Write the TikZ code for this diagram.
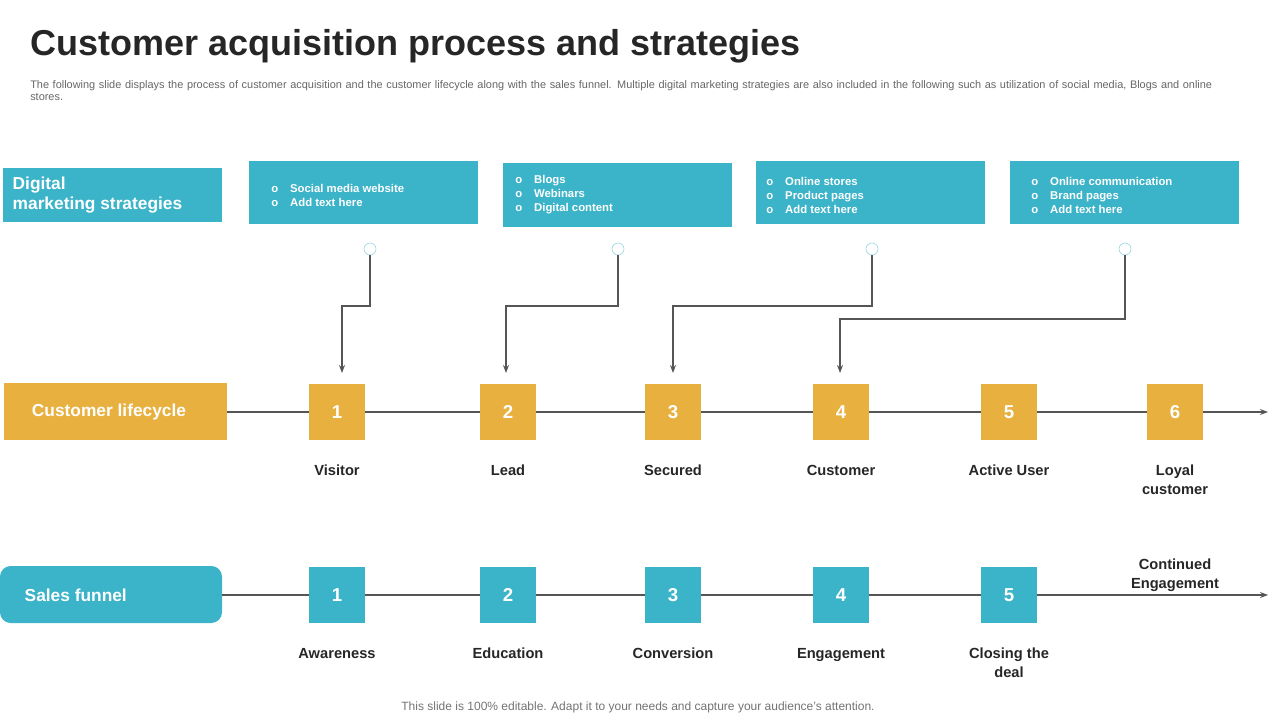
\documentclass[tikz,border=0pt]{standalone}
\usepackage{fontspec}
\setmainfont{Liberation Sans}
\usetikzlibrary{arrows.meta}
\definecolor{teal}{HTML}{3BB3C9}
\definecolor{gold}{HTML}{E8B03F}
\definecolor{line}{HTML}{555555}
\newcommand{\stepsq}[5]{\node[fill=#4,minimum size=42pt,text=white,font=\bfseries\fontsize{14}{16}\selectfont] (#1) at (#2,#3) {#5};}
\newcommand{\steplabel}[4]{\node[font=\bfseries\fontsize{11}{14}\selectfont,align=center,anchor=north,text=black!85] (#1) at (#2,#3) {\strut#4};}
\newcommand{\bl}[1]{o\hspace{9pt}#1}
\tikzset{tbox/.style={fill=teal,text=white,font=\bfseries\fontsize{8.5}{10.5}\selectfont,align=left,anchor=north west,inner sep=0pt},
  pin/.style={circle,draw=teal!60,fill=white,minimum size=9pt,inner sep=0pt},
  conn/.style={draw=line,line width=0.9pt,-{Stealth[length=6pt]}}}
\begin{document}
\begin{tikzpicture}[x=0.75pt,y=-0.75pt]
\useasboundingbox (0,0) rectangle (1280,720);
\node[anchor=west,font=\bfseries\fontsize{27}{30}\selectfont,text=black!85] (title) at (26,46) {Customer acquisition process and strategies};
\node[anchor=north west,text width=912pt,font=\fontsize{8.2}{9.6}\selectfont,text=black!60,inner sep=0pt] (sub) at (30,80) {The following slide displays the process of customer acquisition and the customer lifecycle along with the sales funnel. Multiple digital marketing strategies are also included in the following such as utilization of social media, Blogs and online stores.};
% strategy boxes
\fill[teal] (3,168) rectangle (222,222);
\node[anchor=west,text=white,font=\bfseries\fontsize{13}{15}\selectfont,align=left] (dms) at (8,195) {Digital\\ marketing strategies};
\fill[teal] (249,161) rectangle (478,224);
\fill[teal] (503,163) rectangle (732,227);
\fill[teal] (756,161) rectangle (985,224);
\fill[teal] (1010,161) rectangle (1239,224);
\node[tbox,anchor=west] (s1) at (271,195) {\bl{Social media website}\\ \bl{Add text here}};
\node[tbox,anchor=west] (s2) at (515,195) {\bl{Blogs}\\ \bl{Webinars}\\ \bl{Digital content}};
\node[tbox,anchor=west] (s3) at (766,195) {\bl{Online stores}\\ \bl{Product pages}\\ \bl{Add text here}};
\node[tbox,anchor=west] (s4) at (1031,195) {\bl{Online communication}\\ \bl{Brand pages}\\ \bl{Add text here}};
\node[pin] (p1) at (370,249) {}; \node[pin] (p2) at (618,249) {};
\node[pin] (p3) at (872,249) {}; \node[pin] (p4) at (1125,249) {};
% customer lifecycle
\fill[gold] (4,383) rectangle (227,440);
\node[text=white,font=\bfseries\fontsize{13}{15}\selectfont] (cl) at (109,412) {Customer lifecycle};
\coordinate (clend) at (1268,412);
\draw[conn] (227,412) -- (clend);
\stepsq{c1}{337}{412}{gold}{1} \stepsq{c2}{508}{412}{gold}{2}
\stepsq{c3}{673}{412}{gold}{3} \stepsq{c4}{841}{412}{gold}{4}
\stepsq{c5}{1009}{412}{gold}{5} \stepsq{c6}{1175}{412}{gold}{6}
\steplabel{l1}{337}{458}{Visitor} \steplabel{l2}{508}{458}{Lead}
\steplabel{l3}{673}{458}{Secured} \steplabel{l4}{841}{458}{Customer}
\steplabel{l5}{1009}{458}{Active User} \steplabel{l6}{1175}{458}{Loyal\\customer}
\draw[conn] (p1) -- (370,306) -| (342,373);
\draw[conn] (p2) -- (618,306) -| (506,373);
\draw[conn] (p3) -- (872,306) -| (673,373);
\draw[conn] (p4) -- (1125,319) -| (840,373);
% sales funnel
\fill[teal,rounded corners=8pt] (0,566) rectangle (222,623);
\node[text=white,font=\bfseries\fontsize{13}{15}\selectfont,anchor=west] (sf) at (20,595) {Sales funnel};
\coordinate (sfend) at (1268,595);
\draw[conn] (222,595) -- (sfend);
\stepsq{f1}{337}{595}{teal}{1} \stepsq{f2}{508}{595}{teal}{2}
\stepsq{f3}{673}{595}{teal}{3} \stepsq{f4}{841}{595}{teal}{4}
\stepsq{f5}{1009}{595}{teal}{5}
\steplabel{g1}{337}{641}{Awareness} \steplabel{g2}{508}{641}{Education}
\steplabel{g3}{673}{641}{Conversion} \steplabel{g4}{841}{641}{Engagement}
\steplabel{g5}{1009}{641}{Closing the\\deal} \steplabel{g6}{1175}{552}{Continued\\Engagement}
\node[font=\fontsize{9}{11}\selectfont,text=black!55] (foot) at (638,707) {This slide is 100\% editable. Adapt it to your needs and capture your audience's attention.};
\end{tikzpicture}
\end{document}
